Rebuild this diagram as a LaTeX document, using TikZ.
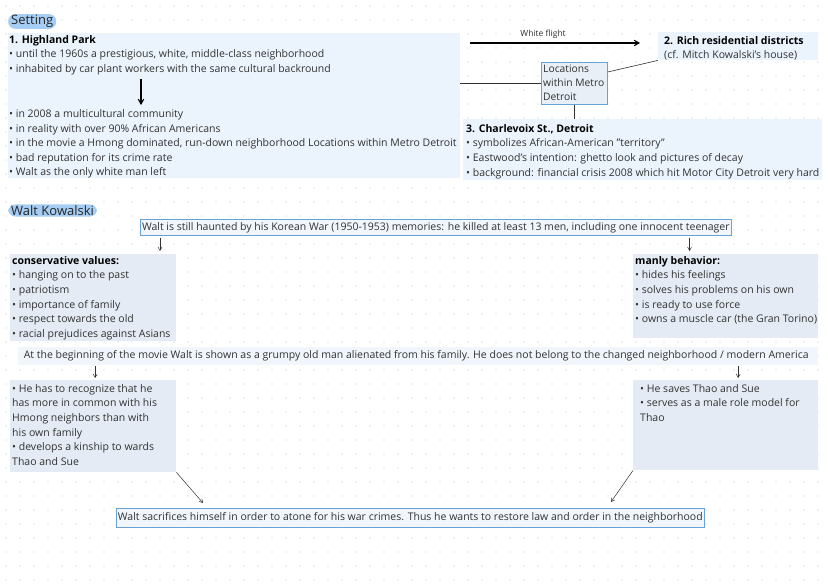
\documentclass[tikz,border=0pt]{standalone}
\usepackage{fontspec}
\setmainfont{Open Sans}
\usetikzlibrary{arrows,calc}

\definecolor{headblue}{RGB}{166,206,244}
\definecolor{setfill}{RGB}{235,244,253}
\definecolor{waltfill}{RGB}{228,235,244}
\definecolor{locfill}{RGB}{232,239,247}
\definecolor{paleblue}{RGB}{240,246,252}
\definecolor{edgeblue}{RGB}{104,162,212}
\definecolor{inkgrey}{RGB}{50,50,50}
\definecolor{dotgrey}{RGB}{196,201,206}

\newcommand{\bodyfont}{\fontsize{10.5}{14.6}\selectfont}

\tikzset{
  panel/.style 2 args={anchor=north west, inner sep=0pt, minimum width=#1, minimum height=#2},
  notes/.style={anchor=north west, inner sep=0pt, align=left, font=\bodyfont, text=inkgrey},
  tag/.style={anchor=west, fill=headblue, rounded corners=7pt, inner xsep=3pt, inner ysep=1pt,
    font=\fontsize{13}{14}\selectfont, text=black!85},
  bigarrow/.style={-angle 60, line width=1.1pt, black},
  thinarrow/.style={-angle 60, line width=0.5pt, inkgrey},
  link/.style={line width=0.6pt, inkgrey}
}

\begin{document}
\begin{tikzpicture}[x=1pt,y=-1pt]
\useasboundingbox (0,0) rectangle (828,586);
\fill[white] (0,0) rectangle (828,586);
\foreach \x in {6,20,...,828}
  \foreach \y in {6,20,...,586}
    \fill[dotgrey] (\x,\y) circle (0.55pt);

% Setting
\node[tag] (setting) at (8,21.5) {Setting};

\node[panel={452pt}{145pt}, fill=setfill] (hp) at (8,33) {};
\node[notes] (hptxt) at (9,32.8) {\strut\textbf{\color{black}1. Highland Park}\\
• until the 1960s a prestigious, white, middle-class neighborhood\\
• inhabited by car plant workers with the same cultural backround\\[30.4pt]
• in 2008 a multicultural community\\
• in reality with over 90\% African Americans\\
• in the movie a Hmong dominated, run-down neighborhood Locations within Metro Detroit\\
• bad reputation for its crime rate\\
• Walt as the only white man left};
\coordinate (hpa) at (141,79);
\coordinate (hpb) at (141,105);
\draw[bigarrow] (hpa) -- (hpb);

\node[panel={160pt}{28pt}, fill=setfill] (rich) at (658,32) {};
\node[notes] (richtxt) at (664,33.8) {\strut\textbf{\color{black}2. Rich residential districts}\\
(cf. Mitch Kowalski's house)};

\node[panel={66pt}{42pt}, fill=locfill, draw=edgeblue, line width=0.7pt] (loc) at (541,62) {};
\node[notes, font=\fontsize{10.3}{14}\selectfont] (loctxt) at (543,62.8) {\strut Locations\\within Metro\\Detroit};

\node[panel={359pt}{61pt}, fill=setfill] (char) at (463,119) {};
\node[notes] (chartxt) at (466,121.8) {\strut\textbf{\color{black}3. Charlevoix St., Detroit}\\
• symbolizes African-American "territory"\\
• Eastwood's intention: ghetto look and pictures of decay\\
• background: financial crisis 2008 which hit Motor City Detroit very hard};

\coordinate (fla) at (470,43);
\coordinate (flb) at (640,43);
\draw[bigarrow] (fla) -- node[pos=0.43, above=1pt, font=\fontsize{8.5}{10}\selectfont, text=inkgrey] {White flight} (flb);

\draw[link] (loc.west -| hp.east) -- (loc.west);
\draw[link] ([yshift=-10pt]loc.north east) -- (rich.south west);
\draw[link] (loc.south) -- (loc.south |- char.north);

% Walt Kowalski
\node[tag] (walt) at (8,210.5) {Walt Kowalski};

\node[panel={591pt}{16pt}, fill=paleblue, draw=edgeblue, line width=0.6pt] (kw) at (140,219) {};
\node[font=\bodyfont, text=inkgrey, inner sep=0pt] (kwtxt) at (kw.center) {Walt is still haunted by his Korean War (1950-1953) memories: he killed at least 13 men, including one innocent teenager};

\node[panel={166pt}{87pt}, fill=waltfill] (cons) at (10,254) {};
\node[notes] (constxt) at (12,253.8) {\strut\textbf{\color{black}conservative values:}\\
• hanging on to the past\\
• patriotism\\
• importance of family\\
• respect towards the old\\
• racial prejudices against Asians};

\node[panel={185pt}{84pt}, fill=waltfill] (manly) at (633,254) {};
\node[notes] (manlytxt) at (635,253.8) {\strut\textbf{\color{black}manly behavior:}\\
• hides his feelings\\
• solves his problems on his own\\
• is ready to use force\\
• owns a muscle car (the Gran Torino)};

\draw[thinarrow, shorten >=3pt] ([xshift=20pt,yshift=-2pt]kw.south west) -- ([xshift=20pt]kw.south west |- cons.north);
\draw[thinarrow, shorten >=3pt] ([xshift=-42pt,yshift=-2pt]kw.south east) -- ([xshift=-42pt]kw.south east |- manly.north);

\node[panel={800pt}{18pt}, fill=paleblue] (begin) at (18,347) {};
\node[font=\bodyfont, text=inkgrey, inner sep=0pt] (begintxt) at ([xshift=-2pt]begin.center) {At the beginning of the movie Walt is shown as a grumpy old man alienated from his family. He does not belong to the changed neighborhood / modern America};

\node[panel={166pt}{92pt}, fill=waltfill] (left) at (10,380) {};
\node[notes] (lefttxt) at (12,381.8) {\strut• He has to recognize that he\\
has more in common with his\\
Hmong neighbors than with\\
his own family\\
• develops a kinship to wards\\
Thao and Sue};

\node[panel={185pt}{90pt}, fill=waltfill] (right) at (633,380) {};
\node[notes] (righttxt) at (640,381.8) {\strut• He saves Thao and Sue\\
• serves as a male role model for\\
Thao};

\draw[thinarrow, shorten >=2pt] ([xshift=2pt,yshift=-1pt]left.north |- begin.south) -- ([xshift=2pt]left.north);
\draw[thinarrow, shorten >=2pt] ([xshift=12.5pt,yshift=-1pt]right.north |- begin.south) -- ([xshift=12.5pt]right.north);

\node[panel={588pt}{19pt}, fill=paleblue, draw=edgeblue, line width=0.6pt] (final) at (116,508) {};
\node[font=\bodyfont, text=inkgrey, inner sep=0pt] (finaltxt) at (final.center) {Walt sacrifices himself in order to atone for his war crimes. Thus he wants to restore law and order in the neighborhood};

\draw[thinarrow] (left.south east) -- ([xshift=87pt,yshift=5pt]final.north west);
\draw[thinarrow] (right.south west) -- ([xshift=495pt,yshift=6pt]final.north west);
\end{tikzpicture}
\end{document}
